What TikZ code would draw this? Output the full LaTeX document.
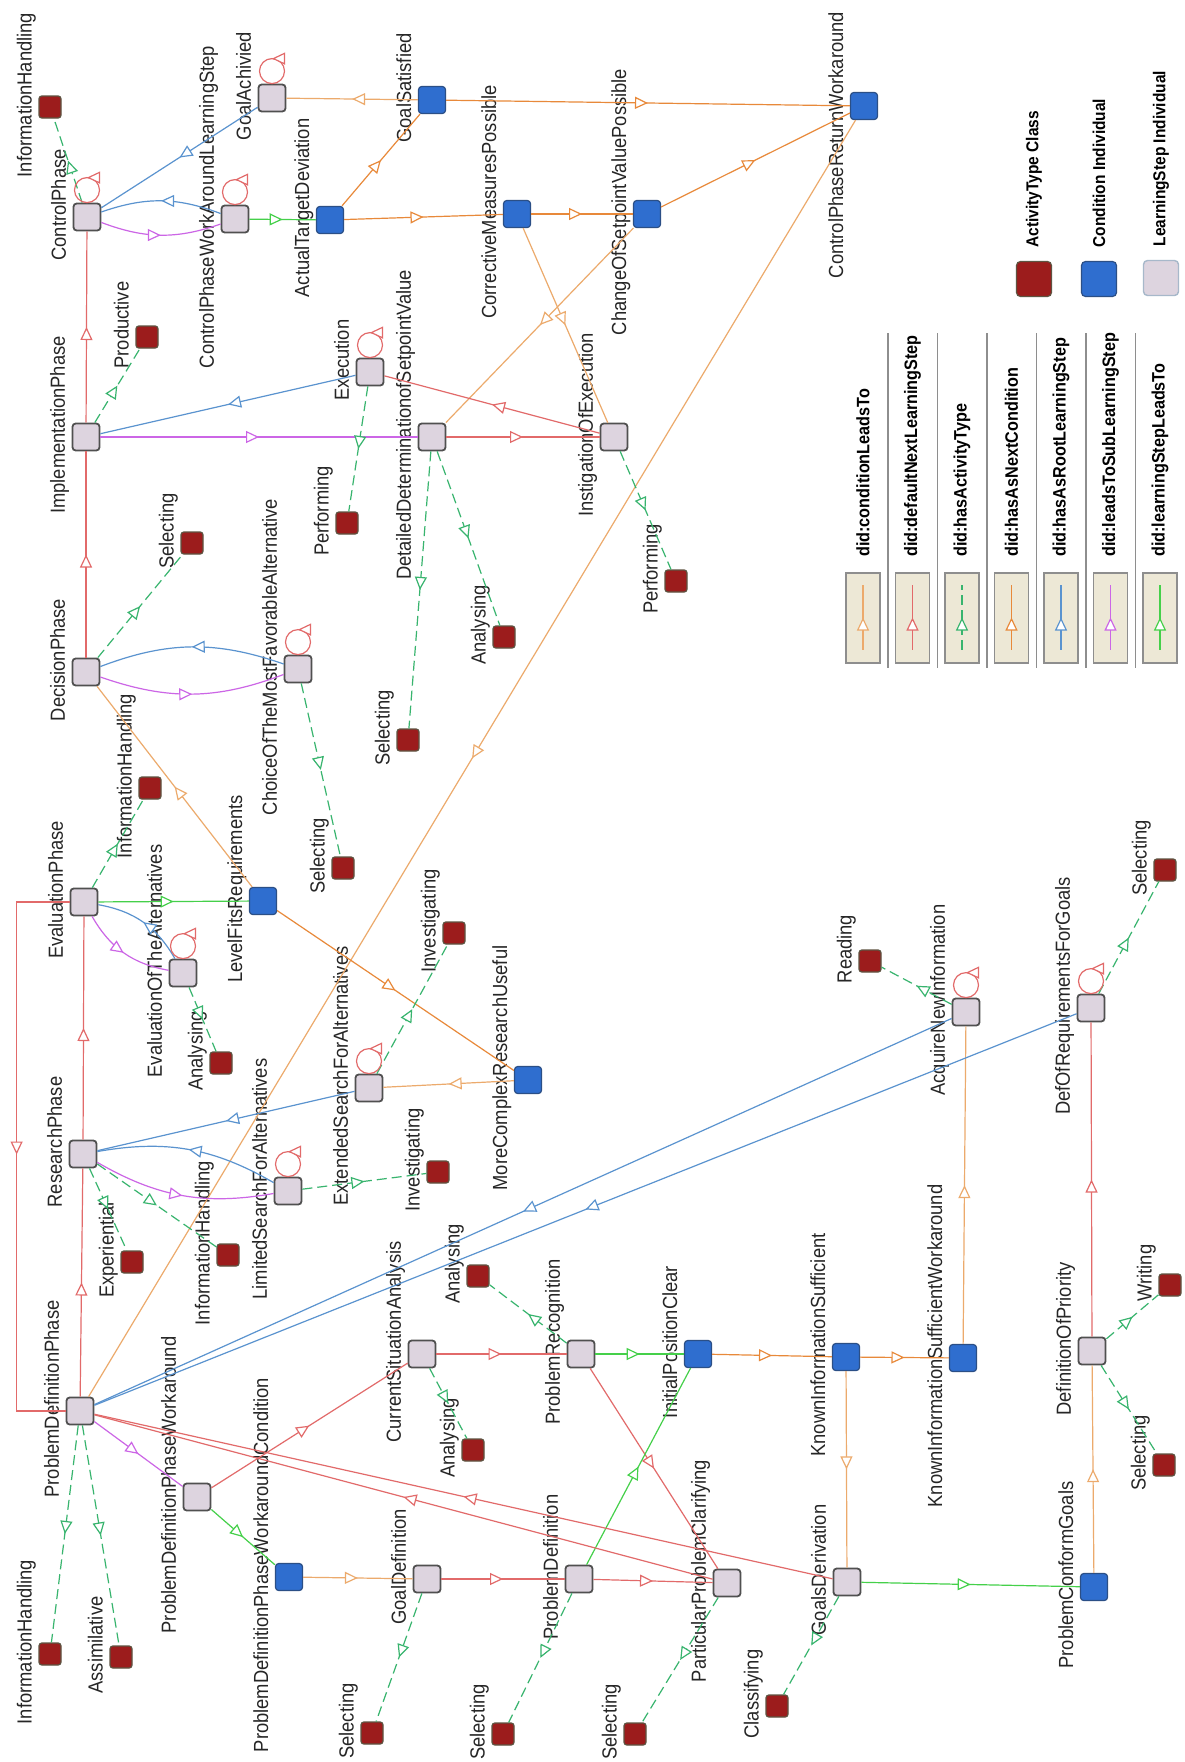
\documentclass[tikz,border=0pt]{standalone}
\usepackage{fontspec}
\setmainfont{Liberation Sans}[FakeStretch=0.9]
\usetikzlibrary{positioning, arrows.meta, decorations.markings}

\definecolor{actFill}{HTML}{9C1C1C}
\definecolor{actLine}{HTML}{5E5442}
\definecolor{condFill}{HTML}{2F6ECF}
\definecolor{condLine}{HTML}{2B4F86}
\definecolor{stepFill}{HTML}{DDD4DF}
\definecolor{stepLine}{HTML}{505050}
\definecolor{legFill}{HTML}{EDE8D6}
\definecolor{legLine}{HTML}{8E8E8E}
\definecolor{condLeadsCol}{HTML}{ECAA6C}
\definecolor{nextStepCol}{HTML}{E26A6A}
\definecolor{hasActCol}{HTML}{38B46E}
\definecolor{nextCondCol}{HTML}{E8893A}
\definecolor{rootCol}{HTML}{5A93CF}
\definecolor{subCol}{HTML}{CC66E6}
\definecolor{stepLeadsCol}{HTML}{45D04A}

\tikzset{
    Link/.style = {
        line width=0.6pt, color=#1,
        decoration={
            markings,
            mark=at position 0.5 with {
                \arrow[#1]{Triangle[length=6.5pt, width=6pt, fill=white, line width=0.6pt]}
                }
            },
        postaction = {decorate}
    },
    CondLeads/.style = {Link=condLeadsCol},
    NextStep/.style  = {Link=nextStepCol},
    HasAct/.style    = {Link=hasActCol, dash pattern=on 5pt off 2.5pt},
    NextCond/.style  = {Link=nextCondCol},
    RootStep/.style  = {Link=rootCol},
    SubStep/.style   = {Link=subCol},
    StepLeads/.style = {Link=stepLeadsCol}
}
\tikzset{
StepNode/.style={
  rectangle, rounded corners=1.6pt, minimum size=13.5pt, inner sep=0pt,
  fill=stepFill, draw=stepLine, line width=0.9pt
  },
CondNode/.style={
  rectangle, rounded corners=1.6pt, minimum size=13.5pt, inner sep=0pt,
  fill=condFill, draw=condLine, line width=0.6pt
  },
ActNode/.style={
  rectangle, rounded corners=1.4pt, minimum size=11pt, inner sep=0pt,
  fill=actFill, draw=actLine, line width=0.6pt
  },
Lbl/.style={
  rotate=90, anchor=south, xshift=6pt, inner sep=1pt, text depth=0.22em,
  text=black!85, font=\fontsize{10.2}{12}\selectfont
  },
LegBox/.style={
  rectangle, minimum width=17pt, minimum height=45pt, inner sep=0pt,
  fill=legFill, draw=legLine, line width=0.9pt
  },
KeyLbl/.style={
  rotate=90, anchor=west, xshift=7pt, inner sep=0.5pt,
  font=\bfseries\fontsize{9}{11}\selectfont
  }
}

\begin{document}
\begin{tikzpicture}[x=0.5pt, y=0.5pt]
    \path[use as bounding box, fill=white] (0,0) rectangle (1184,-1762);

    % learning steps
    \node[StepNode, label={[Lbl]left:ControlPhase}] (cp) at (87,-217) {};
    \node[StepNode, label={[Lbl]left:ControlPhaseWorkAroundLearningStep}] (cpw) at (235,-219) {};
    \node[StepNode, label={[Lbl]left:GoalAchivied}] (ga) at (272,-98) {};
    \node[StepNode, label={[Lbl]left:ImplementationPhase}] (ip) at (86,-437) {};
    \node[StepNode, label={[Lbl]left:Execution}] (exe) at (370,-372) {};
    \node[StepNode, label={[Lbl]left:DetailedDeterminationofSetpointValue}] (dd) at (432,-437) {};
    \node[StepNode, label={[Lbl]left:InstigationOfExecution}] (ioe) at (614,-437) {};
    \node[StepNode, label={[Lbl]left:DecisionPhase}] (dp) at (86,-672) {};
    \node[StepNode, label={[Lbl]left:ChoiceOfTheMostFavorableAlternative}] (cho) at (298,-669) {};
    \node[StepNode, label={[Lbl]left:EvaluationPhase}] (ep) at (84,-902) {};
    \node[StepNode, label={[Lbl]left:EvaluationOfTheAlternatives}] (eoa) at (183,-973) {};
    \node[StepNode, label={[Lbl]left:ExtendedSearchForAlternatives}] (es) at (369,-1088) {};
    \node[StepNode, label={[Lbl]left:ResearchPhase}] (rp) at (83,-1154) {};
    \node[StepNode, label={[Lbl]left:LimitedSearchForAlternatives}] (lsa) at (288,-1191) {};
    \node[StepNode, label={[Lbl]left:AcquireNewInformation}] (ani) at (966,-1012) {};
    \node[StepNode, label={[Lbl]left:DefOfRequirementsForGoals}] (dor) at (1091,-1008) {};
    \node[StepNode, label={[Lbl]left:CurrentSituationAnalysis}] (csa) at (422,-1354) {};
    \node[StepNode, label={[Lbl]left:ProblemRecognition}] (pr) at (581,-1354) {};
    \node[StepNode, label={[Lbl]left:DefinitionOfPriority}] (dop) at (1092,-1351) {};
    \node[StepNode, label={[Lbl]left:ProblemDefinitionPhase}] (pdp) at (80,-1411) {};
    \node[StepNode, label={[Lbl]left:ProblemDefinitionPhaseWorkaround}] (pdw) at (197,-1497) {};
    \node[StepNode, label={[Lbl]left:GoalDefinition}] (gd) at (427,-1579) {};
    \node[StepNode, label={[Lbl]left:ProblemDefinition}] (pd) at (579,-1579) {};
    \node[StepNode, label={[Lbl]left:ParticularProblemClarifying}] (ppc) at (727,-1583) {};
    \node[StepNode, label={[Lbl]left:GoalsDerivation}] (gdv) at (847,-1582) {};

    % conditions
    \node[CondNode, label={[Lbl]left:ActualTargetDeviation}] (atd) at (330,-220) {};
    \node[CondNode, label={[Lbl]left:GoalSatisfied}] (gs) at (432,-100) {};
    \node[CondNode, label={[Lbl]left:CorrectiveMeasuresPossible}] (cmp) at (517,-214) {};
    \node[CondNode, label={[Lbl]left:ChangeOfSetpointValuePossible}] (csv) at (647,-214) {};
    \node[CondNode, label={[Lbl, xshift=-25.5pt]left:ControlPhaseReturnWorkaround}] (cpr) at (864,-106) {};
    \node[CondNode, label={[Lbl]left:LevelFitsRequirements}] (lfr) at (263,-901) {};
    \node[CondNode, label={[Lbl]left:MoreComplexResearchUseful}] (mcr) at (528,-1080) {};
    \node[CondNode, label={[Lbl]left:InitialPositionClear}] (ipc) at (698,-1354) {};
    \node[CondNode, label={[Lbl]left:KnownInformationSufficient}] (kis) at (846,-1357) {};
    \node[CondNode, label={[Lbl]left:KnownInformationSufficientWorkaround}] (ksw) at (963,-1358) {};
    \node[CondNode, label={[Lbl]left:ProblemDefinitionPhaseWorkaroundCondition}] (pwc) at (289,-1577) {};
    \node[CondNode, label={[Lbl]left:ProblemConformGoals}] (pcg) at (1094,-1587) {};

    % activity types
    \node[ActNode, label={[Lbl]left:InformationHandling}] (ih1) at (50,-107) {};
    \node[ActNode, label={[Lbl]left:Productive}] (prod) at (147,-337) {};
    \node[ActNode, label={[Lbl]left:Performing}] (perf1) at (347,-523) {};
    \node[ActNode, label={[Lbl]left:Selecting}] (sel1) at (192,-543) {};
    \node[ActNode, label={[Lbl]left:Performing}] (perf2) at (676,-581) {};
    \node[ActNode, label={[Lbl]left:Analysing}] (ana1) at (504,-637) {};
    \node[ActNode, label={[Lbl]left:Selecting}] (sel3) at (408,-740) {};
    \node[ActNode, label={[Lbl]left:InformationHandling}] (ih2) at (150,-788) {};
    \node[ActNode, label={[Lbl]left:Selecting}] (sel2) at (343,-868) {};
    \node[ActNode, label={[Lbl]left:Investigating}] (inv1) at (454,-933) {};
    \node[ActNode, label={[Lbl]left:Reading}] (read) at (870,-961) {};
    \node[ActNode, label={[Lbl]left:Selecting}] (sel4) at (1165,-870) {};
    \node[ActNode, label={[Lbl]left:Analysing}] (ana2) at (221,-1063) {};
    \node[ActNode, label={[Lbl]left:Investigating}] (inv2) at (438,-1172) {};
    \node[ActNode, label={[Lbl]left:Experiential}] (exp) at (132,-1262) {};
    \node[ActNode, label={[Lbl]left:InformationHandling}] (ih3) at (228,-1255) {};
    \node[ActNode, label={[Lbl]left:Analysing}] (ana3) at (478,-1276) {};
    \node[ActNode, label={[Lbl]left:Writing}] (writ) at (1170,-1285) {};
    \node[ActNode, label={[Lbl]left:Analysing}] (ana4) at (473,-1450) {};
    \node[ActNode, label={[Lbl]left:Selecting}] (sel5) at (1164,-1465) {};
    \node[ActNode, label={[Lbl]left:InformationHandling}] (ih4) at (50,-1654) {};
    \node[ActNode, label={[Lbl]left:Assimilative}] (asm) at (121,-1657) {};
    \node[ActNode, label={[Lbl]left:Selecting}] (sel6) at (372,-1733) {};
    \node[ActNode, label={[Lbl]left:Selecting}] (sel7) at (503,-1734) {};
    \node[ActNode, label={[Lbl]left:Selecting}] (sel8) at (635,-1734) {};
    \node[ActNode, label={[Lbl]left:Classifying}] (cls) at (777,-1706) {};

    % control phase
    \draw[NextStep] (ip) -- (cp);
    \draw[HasAct] (cp) -- (ih1);
    \draw[RootStep] (ga) -- (cp);
    \draw[RootStep] (cpw) to[bend right=20] (cp);
    \draw[SubStep] (cp) to[bend right=20] (cpw);
    \draw[StepLeads] (cpw) -- (atd);
    \draw[NextCond] (atd) -- (gs);
    \draw[NextCond] (atd) -- (cmp);
    \draw[CondLeads] (gs) -- (ga);
    \draw[NextCond] (gs) -- (cpr);
    \draw[NextCond] (cmp) -- (csv);
    \draw[NextCond] (csv) -- (cpr);
    \draw[CondLeads] (csv) -- (dd);
    \draw[CondLeads] (cmp) -- (ioe);
    \draw[CondLeads] (cpr) -- (pdp);

    % implementation phase
    \draw[HasAct] (ip) -- (prod);
    \draw[RootStep] (exe) -- (ip);
    \draw[SubStep] (ip) -- (dd);
    \draw[NextStep] (dd) -- (ioe);
    \draw[NextStep] (ioe) -- (exe);
    \draw[HasAct] (exe) -- (perf1);
    \draw[HasAct] (dd) -- (sel3);
    \draw[HasAct] (dd) -- (ana1);
    \draw[HasAct] (ioe) -- (perf2);

    % decision phase
    \draw[NextStep] (dp) -- (ip);
    \draw[HasAct] (dp) -- (sel1);
    \draw[RootStep] (cho) to[bend right=20] (dp);
    \draw[SubStep] (dp) to[bend right=20] (cho);
    \draw[HasAct] (cho) -- (sel2);

    % evaluation phase
    \draw[CondLeads] (lfr) -- (dp);
    \draw[HasAct] (ep) -- (ih2);
    \draw[StepLeads] (ep) -- (lfr);
    \draw[RootStep] (eoa) to[bend right=25] (ep);
    \draw[SubStep] (ep) to[bend right=25] (eoa);
    \draw[HasAct] (eoa) -- (ana2);
    \draw[NextCond] (lfr) -- (mcr);
    \draw[NextStep] (ep.west) -- ++(-53,0) |- (pdp.west);

    % research phase
    \draw[NextStep] (rp) -- (ep);
    \draw[CondLeads] (mcr) -- (es);
    \draw[RootStep] (es) -- (rp);
    \draw[HasAct] (es) -- (inv1);
    \draw[RootStep] (lsa) to[bend right=20] (rp);
    \draw[SubStep] (rp) to[bend right=20] (lsa);
    \draw[HasAct] (lsa) -- (inv2);
    \draw[HasAct] (rp) -- (exp);
    \draw[HasAct] (rp) -- (ih3);

    % problem definition phase
    \draw[NextStep] (pdp) -- (rp);
    \draw[HasAct] (pdp) -- (ih4);
    \draw[HasAct] (pdp) -- (asm);
    \draw[SubStep] (pdp) -- (pdw);
    \draw[StepLeads] (pdw) -- (pwc);
    \draw[CondLeads] (pwc) -- (gd);
    \draw[NextStep] (pdw) -- (csa);
    \draw[NextStep] (csa) -- (pr);
    \draw[HasAct] (csa) -- (ana4);
    \draw[HasAct] (pr) -- (ana3);
    \draw[StepLeads] (pr) -- (ipc);
    \draw[NextStep] (pr) -- (ppc);
    \draw[NextStep] (gd) -- (pd);
    \draw[NextStep] (pd) -- (ppc);
    \draw[StepLeads] (pd) -- (ipc);
    \draw[HasAct] (gd) -- (sel6);
    \draw[HasAct] (pd) -- (sel7);
    \draw[HasAct] (ppc) -- (sel8);
    \draw[NextStep] (ppc) -- (pdp);
    \draw[NextStep] (gdv) -- (pdp);
    \draw[NextCond] (ipc) -- (kis);
    \draw[NextCond] (kis) -- (ksw);
    \draw[CondLeads] (kis) -- (gdv);
    \draw[CondLeads] (ksw) -- (ani);
    \draw[HasAct] (gdv) -- (cls);
    \draw[StepLeads] (gdv) -- (pcg);
    \draw[CondLeads] (pcg) -- (dop);
    \draw[NextStep] (dop) -- (dor);
    \draw[HasAct] (dop) -- (writ);
    \draw[HasAct] (dop) -- (sel5);
    \draw[HasAct] (dor) -- (sel4);
    \draw[HasAct] (ani) -- (read);
    \draw[RootStep] (ani) -- (pdp);
    \draw[RootStep] (dor) -- (pdp);

    % self loops
    \foreach \n in {cp, cpw, ga, exe, cho, eoa, es, lsa, ani, dor}
        \draw[NextStep] (\n.north) arc[start angle=-90, end angle=270, radius=6.25pt];

    % legend: edge types
    \node[LegBox, label={[KeyLbl]above:{did:conditionLeadsTo}}] (lb1) at (863,-618) {};
    \node[LegBox, label={[KeyLbl]above:{did:defaultNextLearningStep}}] (lb2) at (912.5,-618) {};
    \node[LegBox, label={[KeyLbl]above:{did:hasActivityType}}] (lb3) at (962,-618) {};
    \node[LegBox, label={[KeyLbl]above:{did:hasAsNextCondition}}] (lb4) at (1011.5,-618) {};
    \node[LegBox, label={[KeyLbl]above:{did:hasAsRootLearningStep}}] (lb5) at (1061,-618) {};
    \node[LegBox, label={[KeyLbl]above:{did:leadsToSubLearningStep}}] (lb6) at (1110.5,-618) {};
    \node[LegBox, label={[KeyLbl]above:{did:learningStepLeadsTo}}] (lb7) at (1160,-618) {};
    \draw[CondLeads] ([yshift=7pt]lb1.south) -- ([yshift=-6.5pt]lb1.north);
    \draw[NextStep] ([yshift=7pt]lb2.south) -- ([yshift=-6.5pt]lb2.north);
    \draw[HasAct] ([yshift=7pt]lb3.south) -- ([yshift=-6.5pt]lb3.north);
    \draw[NextCond] ([yshift=7pt]lb4.south) -- ([yshift=-6.5pt]lb4.north);
    \draw[RootStep] ([yshift=7pt]lb5.south) -- ([yshift=-6.5pt]lb5.north);
    \draw[SubStep] ([yshift=7pt]lb6.south) -- ([yshift=-6.5pt]lb6.north);
    \draw[StepLeads] ([yshift=7pt]lb7.south) -- ([yshift=-6.5pt]lb7.north);
    \foreach \x in {888, 937.5, 987, 1036.5, 1086, 1135.5}
        \draw[legLine, line width=0.8pt] (\x,-333) -- (\x,-668);

    % legend: node types
    \node[ActNode, minimum size=17.5pt, rounded corners=2pt,
          label={[KeyLbl, xshift=-1pt, font=\bfseries\fontsize{8.6}{10}\selectfont]above:ActivityType Class}] (kact) at (1034,-279) {};
    \node[CondNode, minimum size=17.5pt, rounded corners=2pt,
          label={[KeyLbl, xshift=-1pt, font=\bfseries\fontsize{8.6}{10}\selectfont]above:Condition Individual}] (kcond) at (1099,-279) {};
    \node[StepNode, minimum size=17.5pt, rounded corners=2pt, draw=rootCol!50!gray!60, line width=0.7pt,
          label={[KeyLbl, xshift=-1pt, font=\bfseries\fontsize{8.6}{10}\selectfont]above:LearningStep Individual}] (kstep) at (1161,-278) {};
\end{tikzpicture}
\end{document}
